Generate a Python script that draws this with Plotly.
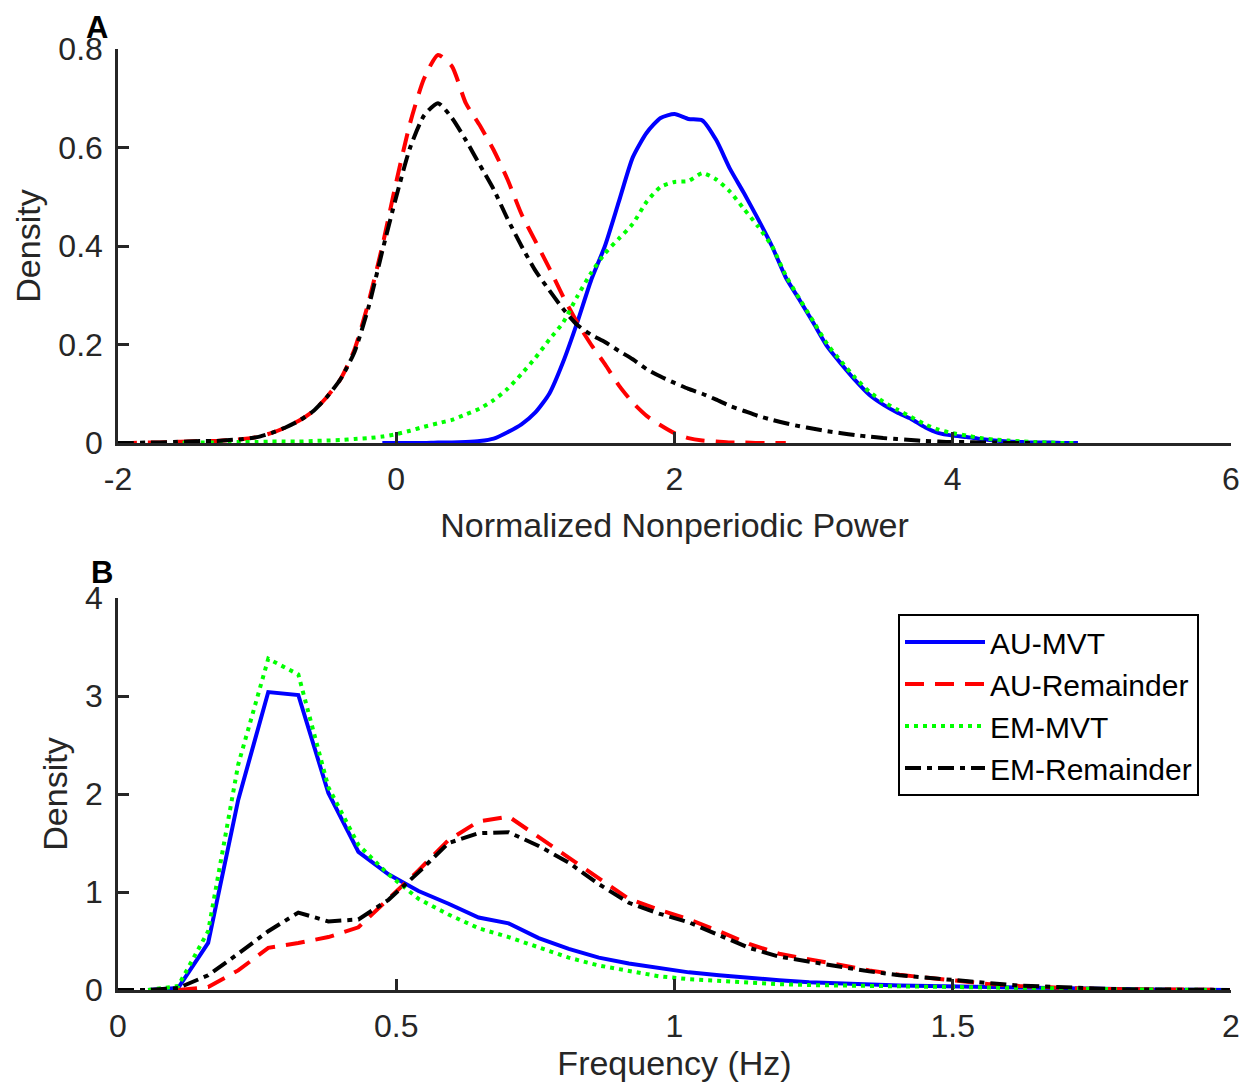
import plotly.graph_objects as go

# ---- panel A: density of normalized nonperiodic power (grid -2 .. 5, step 0.1) ----
x_a = [round(-2 + 0.1 * i, 1) for i in range(71)]

au_mvt_a = [None] * 19 + [
    0.0, 0.0, 0.0, 0.0, 0.001, 0.001, 0.002, 0.004, 0.009, 0.022,        # -0.1 .. 0.8
    0.038, 0.062, 0.1, 0.165, 0.244, 0.33, 0.40, 0.49, 0.58, 0.63,       # 0.9 .. 1.8
    0.66, 0.668, 0.658, 0.655, 0.615, 0.556, 0.507, 0.455, 0.40, 0.336,  # 1.9 .. 2.8
    0.29, 0.243, 0.195, 0.16, 0.127, 0.098, 0.078, 0.062, 0.049, 0.032,  # 2.9 .. 3.8
    0.02, 0.015, 0.012, 0.008, 0.005, 0.003, 0.002, 0.001, 0.001, 0.0,   # 3.9 .. 4.8
    0.0, None]

au_rem_a = [
    0.0, 0.0, 0.001, 0.001, 0.002, 0.003, 0.004, 0.004, 0.006, 0.008,    # -2.0 .. -1.1
    0.012, 0.02, 0.031, 0.045, 0.064, 0.093, 0.13, 0.19, 0.285, 0.40,    # -1.0 .. -0.1
    0.53, 0.65, 0.74, 0.788, 0.765, 0.69, 0.645, 0.595, 0.535, 0.465,    # 0.0 .. 0.9
    0.41, 0.355, 0.297, 0.245, 0.2, 0.16, 0.117, 0.082, 0.055, 0.036,    # 1.0 .. 1.9
    0.02, 0.01, 0.005, 0.003, 0.001, 0.001, 0.0, 0.0, 0.0] + [None] * 22

em_mvt_a = [None] * 4 + [
    0.0, 0.001, 0.001, 0.001, 0.002, 0.002, 0.002, 0.003, 0.003, 0.003,  # -1.6 .. -0.7
    0.004, 0.005, 0.006, 0.008, 0.01, 0.013,                             # -0.6 .. -0.1
    0.018, 0.025, 0.033, 0.04, 0.047, 0.058, 0.07, 0.087, 0.11, 0.14,    # 0.0 .. 0.9
    0.173, 0.21, 0.245, 0.297, 0.345, 0.385, 0.415, 0.445, 0.49, 0.52,   # 1.0 .. 1.9
    0.53, 0.532, 0.548, 0.535, 0.51, 0.475, 0.44, 0.40, 0.34, 0.292,     # 2.0 .. 2.9
    0.246, 0.2, 0.165, 0.132, 0.104, 0.084, 0.068, 0.053, 0.038, 0.027,  # 3.0 .. 3.9
    0.02, 0.015, 0.01, 0.007, 0.005, 0.003, 0.002, 0.001, 0.0, 0.0,      # 4.0 .. 4.9
    None]

em_rem_a = [
    0.0, 0.0, 0.001, 0.001, 0.002, 0.003, 0.004, 0.004, 0.006, 0.008,    # -2.0 .. -1.1
    0.012, 0.02, 0.031, 0.045, 0.064, 0.093, 0.13, 0.185, 0.275, 0.39,   # -1.0 .. -0.1
    0.50, 0.60, 0.665, 0.69, 0.66, 0.615, 0.565, 0.515, 0.455, 0.40,     # 0.0 .. 0.9
    0.35, 0.31, 0.272, 0.24, 0.22, 0.205, 0.187, 0.17, 0.15, 0.135,      # 1.0 .. 1.9
    0.122, 0.11, 0.1, 0.088, 0.075, 0.065, 0.055, 0.047, 0.04, 0.034,    # 2.0 .. 2.9
    0.029, 0.024, 0.02, 0.016, 0.013, 0.01, 0.008, 0.006, 0.004, 0.003,  # 3.0 .. 3.9
    0.002, 0.002, 0.001, 0.001, 0.0, 0.0, 0.0] + [None] * 4

# ---- panel B: density of frequency (Hz) ----
freq_b = [round(0.054 * k, 3) for k in range(38)]

au_mvt_b = [None, 0.0, 0.02, 0.48, 1.94, 3.04, 3.01, 2.01, 1.41, 1.18,
            1.01, 0.88, 0.74, 0.68, 0.53, 0.42, 0.33, 0.27, 0.22, 0.18,
            0.15, 0.12, 0.1, 0.08, 0.065, 0.055, 0.045, 0.04, 0.035, 0.03,
            0.022, 0.016, 0.012, 0.008, 0.005, 0.003, 0.002, 0.0]
au_rem_b = [None, None, 0.0, 0.03, 0.2, 0.43, 0.48, 0.54, 0.64, 0.93,
            1.22, 1.53, 1.72, 1.77, 1.56, 1.34, 1.13, 0.93, 0.82, 0.72,
            0.6, 0.47, 0.37, 0.31, 0.25, 0.2, 0.155, 0.12, 0.085, 0.06,
            0.04, 0.025, 0.015, 0.01, 0.005, 0.003, 0.001, 0.0]
em_mvt_b = [None, 0.0, 0.04, 0.6, 2.3, 3.38, 3.22, 2.07, 1.48, 1.18,
            0.93, 0.77, 0.63, 0.54, 0.43, 0.33, 0.25, 0.19, 0.14, 0.11,
            0.09, 0.075, 0.06, 0.05, 0.045, 0.04, 0.035, 0.03, 0.025, 0.02,
            0.015, 0.012, 0.01, 0.007, 0.005, 0.003, 0.002, 0.0]
em_rem_b = [0.0, 0.0, 0.02, 0.15, 0.37, 0.6, 0.79, 0.7, 0.72, 0.92,
            1.2, 1.5, 1.6, 1.61, 1.47, 1.3, 1.08, 0.89, 0.78, 0.69,
            0.56, 0.43, 0.34, 0.29, 0.23, 0.19, 0.15, 0.12, 0.095, 0.07,
            0.045, 0.03, 0.018, 0.01, 0.006, 0.003, 0.002, 0.0]

names = ["AU-MVT", "AU-Remainder", "EM-MVT", "EM-Remainder"]
colors = ["#0000FF", "#FF0000", "#00FF00", "#000000"]
dashes = ["solid", "19px,11px", "4px,5px", "16px,6px,5px,6px"]

xticks_a = [-2, 0, 2, 4, 6]
xticks_a_txt = ["-2", "0", "2", "4", "6"]
yticks_a = [0, 0.2, 0.4, 0.6, 0.8]
xticks_b = [0, 0.5, 1, 1.5, 2]
yticks_b = [0, 1, 2, 3, 4]

FONT = "Liberation Sans, Arial, sans-serif"
AX = "#262626"

fig = go.Figure()

series_a = [au_mvt_a, au_rem_a, em_mvt_a, em_rem_a]
series_b = [au_mvt_b, au_rem_b, em_mvt_b, em_rem_b]

for i in range(4):
    fig.add_trace(go.Scatter(
        x=x_a, y=series_a[i], mode="lines", name=names[i],
        line=dict(color=colors[i], width=4, dash=dashes[i], shape="spline", smoothing=0.6),
        xaxis="x", yaxis="y", showlegend=False, connectgaps=False,
    ))
for i in range(4):
    fig.add_trace(go.Scatter(
        x=freq_b, y=series_b[i], mode="lines", name=names[i],
        line=dict(color=colors[i], width=4, dash=dashes[i]),
        xaxis="x2", yaxis="y2", showlegend=True, connectgaps=False,
    ))

axis_common = dict(
    showline=True, linecolor=AX, linewidth=2.5,
    ticks="inside", ticklen=11, tickwidth=2.5, tickcolor=AX,
    showgrid=False, zeroline=False, mirror=False,
    tickfont=dict(family=FONT, size=32, color=AX),
    automargin=False,
)
title_font = dict(family=FONT, size=34, color=AX)

# the page adds an 8px body margin, so positions are taken from the reference minus 8px
OFF = 8
W, H = 1253 - 2 * OFF, 1090 - 2 * OFF


def px_x(p):
    return (p - OFF) / W


def px_y(p):
    return (H - (p - OFF)) / H


xdom = [px_x(118), px_x(1231)]

fig.update_layout(
    width=W, height=H,
    margin=dict(l=0, r=0, t=0, b=0),
    paper_bgcolor="white", plot_bgcolor="white",
    font=dict(family=FONT, color=AX),
    xaxis=dict(domain=xdom, range=[-2, 6], tickvals=xticks_a, ticktext=xticks_a_txt,
               anchor="y", ticklabelstandoff=6,
               title=dict(text="Normalized Nonperiodic Power", font=title_font, standoff=18),
               **axis_common),
    yaxis=dict(domain=[px_y(443), px_y(49)], range=[0, 0.8],
               tickvals=yticks_a, ticktext=[str(v) for v in yticks_a],
               anchor="x", ticklabelstandoff=6,
               title=dict(text="Density", font=title_font, standoff=8),
               **axis_common),
    xaxis2=dict(domain=xdom, range=[0, 2], tickvals=xticks_b,
                ticktext=[str(v) for v in xticks_b],
                anchor="y2", ticklabelstandoff=6,
                title=dict(text="Frequency (Hz)", font=title_font, standoff=19),
                **axis_common),
    yaxis2=dict(domain=[px_y(990), px_y(598)], range=[0, 4],
                tickvals=yticks_b, ticktext=[str(v) for v in yticks_b],
                anchor="x2", ticklabelstandoff=6,
                title=dict(text="Density", font=title_font, standoff=8),
                **axis_common),
    legend=dict(
        x=px_x(898), y=px_y(614), xanchor="left", yanchor="top",
        bgcolor="white", bordercolor="#000000", borderwidth=2,
        font=dict(family=FONT, size=30, color="#000000"),
        itemwidth=80, tracegroupgap=0,
    ),
    annotations=[
        dict(text="<b>A</b>", x=px_x(97), y=px_y(27), xref="paper", yref="paper",
             xanchor="center", yanchor="middle", showarrow=False,
             font=dict(family=FONT, size=31, color="#000000")),
        dict(text="<b>B</b>", x=px_x(102), y=px_y(572), xref="paper", yref="paper",
             xanchor="center", yanchor="middle", showarrow=False,
             font=dict(family=FONT, size=31, color="#000000")),
    ],
)

fig.write_html("out.html")
